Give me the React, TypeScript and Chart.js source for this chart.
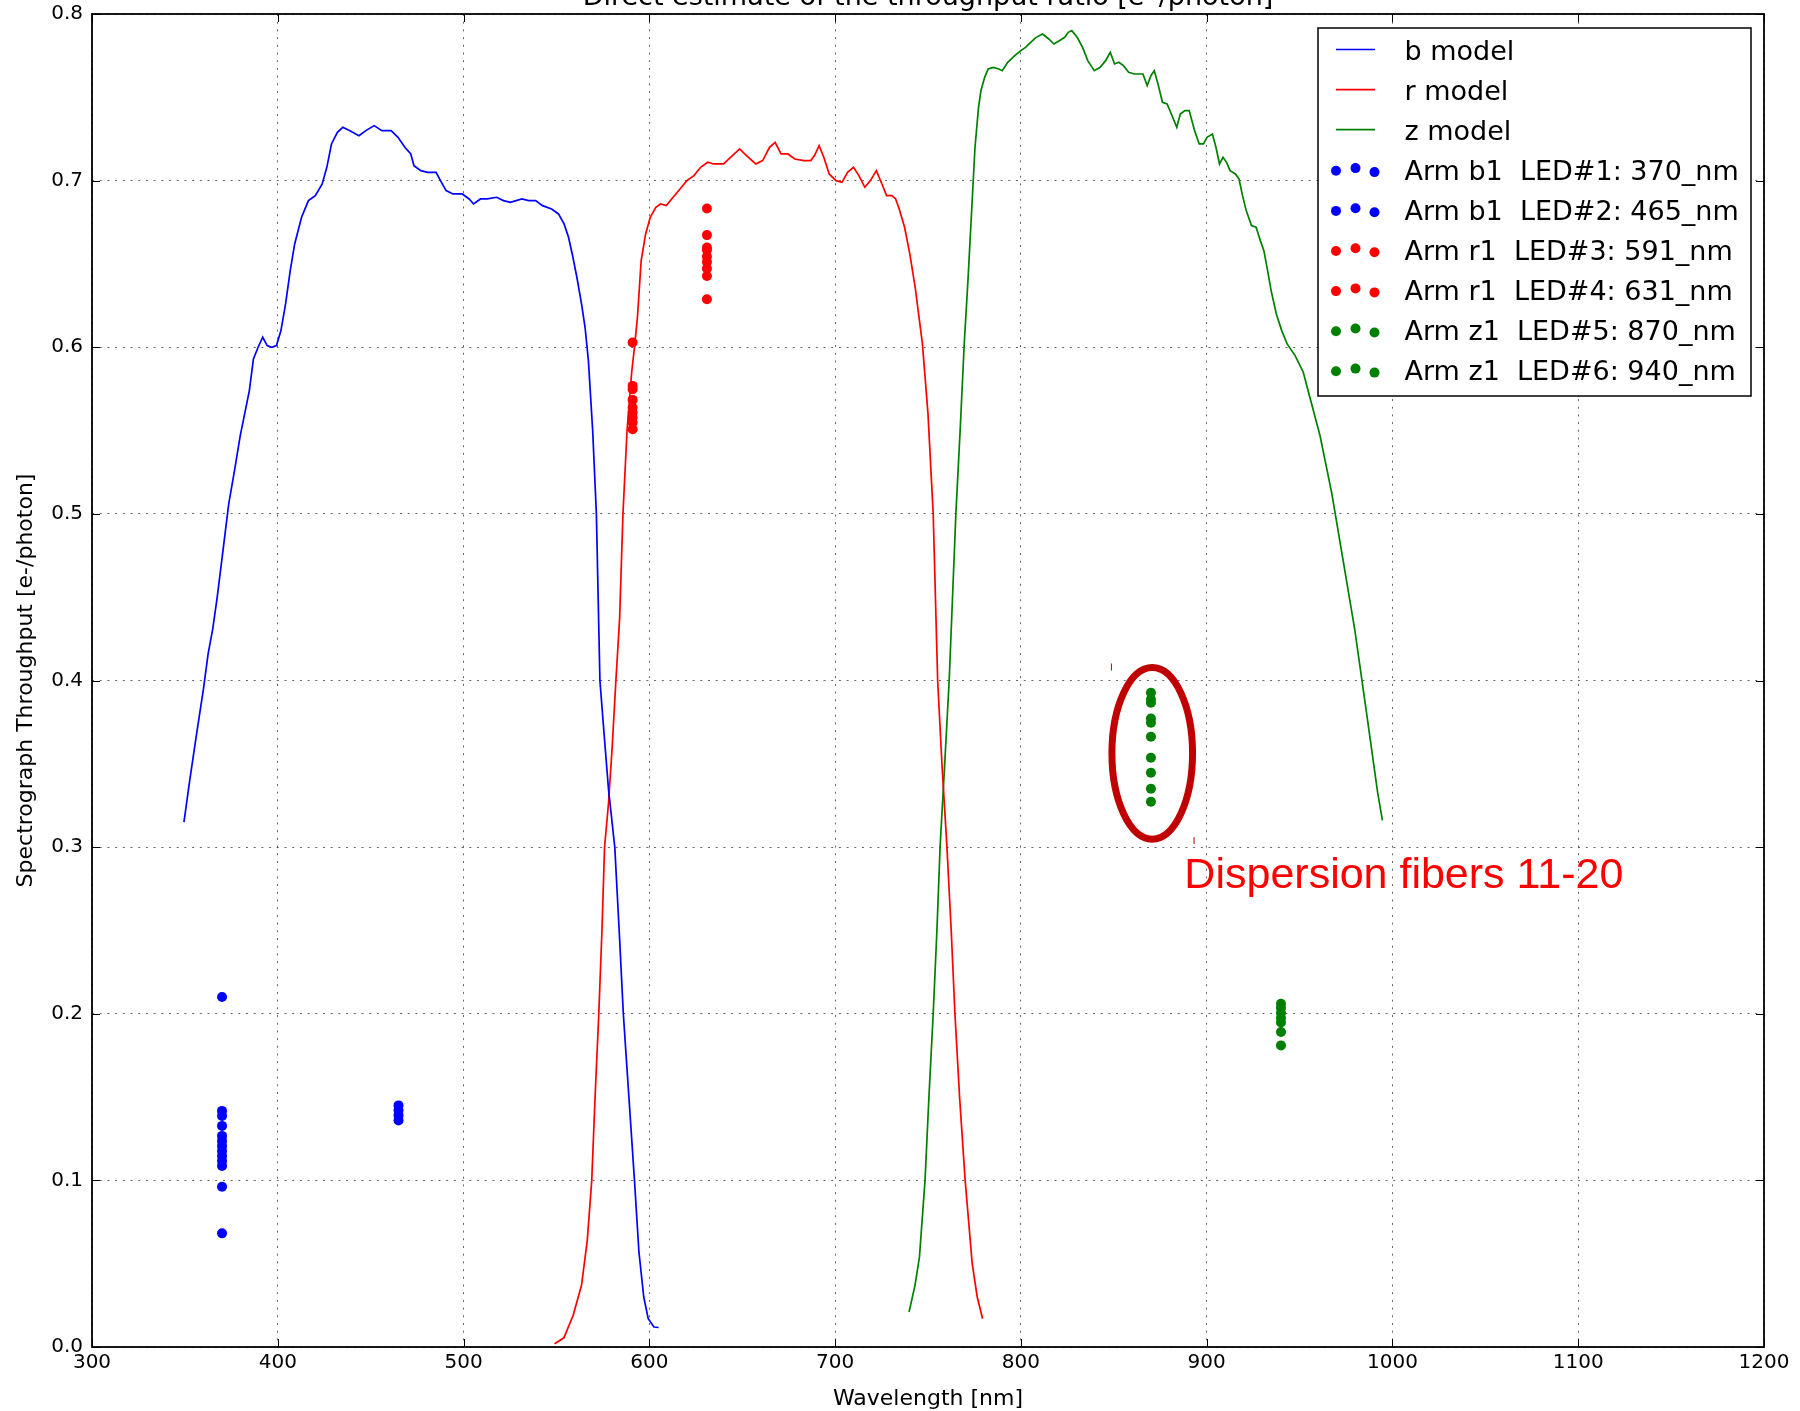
import React, { useEffect, useRef } from "react";
import { Chart, registerables } from "chart.js";

Chart.register(...registerables);

// ---------------- data ----------------
const bWave = [349.5, 352.6, 356.3, 360, 362.5, 365, 367.4, 370.5, 373.6, 376.7, 379.8, 384.7, 386.9, 389.4, 391.9, 394.3, 396.8, 399.3, 401.7, 404.2, 406.7, 409.1, 412.8, 416.5, 420.2, 423.9, 426.4, 428.9, 432.1, 435, 438.8, 443.7, 447.4, 451.9, 456, 461, 464.7, 468.4, 471.6, 473.3, 477, 480.7, 485.2, 488.1, 490.6, 494.3, 499.3, 503, 505.4, 509.1, 512.8, 517.8, 521.5, 525.2, 531.4, 535.1, 538.8, 542.5, 547.4, 551.1, 554.1, 556.5, 558.5, 561, 563.5, 565.4, 567.2, 569.5, 571.5, 573.4, 575.5, 578, 581.4, 584, 586, 589, 592, 594.4, 597, 599.4, 602.5, 605];
const bThru = [0.315, 0.34, 0.368, 0.395, 0.416, 0.431, 0.45, 0.478, 0.506, 0.526, 0.547, 0.574, 0.593, 0.6, 0.606, 0.601, 0.6, 0.601, 0.61, 0.626, 0.646, 0.662, 0.678, 0.688, 0.691, 0.698, 0.708, 0.722, 0.729, 0.732, 0.73, 0.727, 0.73, 0.733, 0.73, 0.73, 0.726, 0.72, 0.716, 0.709, 0.706, 0.705, 0.705, 0.699, 0.694, 0.692, 0.692, 0.689, 0.686, 0.689, 0.689, 0.69, 0.688, 0.687, 0.689, 0.688, 0.688, 0.685, 0.683, 0.68, 0.674, 0.666, 0.656, 0.642, 0.626, 0.612, 0.592, 0.55, 0.5, 0.4, 0.37, 0.335, 0.3, 0.245, 0.2, 0.15, 0.1, 0.057, 0.03, 0.017, 0.012, 0.0117];

const rWave = [549, 554, 559, 563.5, 566.6, 569, 570.8, 572.8, 574.5, 575.9, 578, 580, 582, 584, 585.8, 588, 590.5, 592, 593.6, 595.6, 598, 600.5, 603.5, 606, 609.1, 612.8, 616.5, 620.2, 624, 627.6, 631.4, 634.6, 640, 643.7, 648.6, 652.3, 657.3, 661, 664.7, 667.7, 670.9, 674.6, 678.3, 683.2, 686.9, 688.9, 691.4, 693.9, 696.8, 700.5, 703.7, 706.7, 709.9, 712.8, 716, 719, 722.2, 725.2, 727.7, 730.6, 732.6, 734.5, 737.4, 740.2, 743.1, 745.4, 747, 750, 752.8, 755.2, 757.5, 760.2, 762.5, 764.5, 767, 770, 773.8, 776.5, 779.4];
const rThru = [0.002, 0.0055, 0.019, 0.037, 0.064, 0.1, 0.15, 0.2, 0.25, 0.3, 0.326, 0.36, 0.4, 0.437, 0.5, 0.55, 0.585, 0.6, 0.618, 0.652, 0.668, 0.678, 0.684, 0.686, 0.685, 0.69, 0.695, 0.7, 0.703, 0.708, 0.711, 0.71, 0.71, 0.714, 0.719, 0.715, 0.71, 0.712, 0.72, 0.723, 0.716, 0.716, 0.713, 0.712, 0.712, 0.715, 0.721, 0.714, 0.704, 0.7, 0.699, 0.705, 0.708, 0.703, 0.696, 0.7, 0.706, 0.698, 0.691, 0.691, 0.689, 0.683, 0.672, 0.656, 0.636, 0.616, 0.602, 0.56, 0.5, 0.4, 0.35, 0.3, 0.25, 0.2, 0.15, 0.1, 0.05, 0.03, 0.017];

const zWave = [739.8, 743, 745.4, 748.4, 750.5, 752.8, 754.8, 756.5, 759, 761.4, 763.2, 765, 767.3, 769.5, 771.5, 773.4, 775.3, 777.2, 778.5, 780.5, 782.4, 785.2, 788.1, 790, 792.9, 796.7, 800, 802.5, 804.4, 808.2, 811.7, 815, 817.8, 820.7, 823.6, 825.5, 827.4, 830.3, 833.2, 836, 839.5, 842.7, 845.6, 848.1, 850.4, 852.7, 855.2, 858, 861, 863.4, 865.7, 868, 870, 871.8, 873.8, 876.2, 878.7, 881, 883.9, 885.8, 888.3, 890.6, 893.5, 896, 898.3, 900.2, 903.1, 905, 906.9, 908.8, 910.7, 912.6, 915.5, 917.4, 919.3, 921.3, 924.1, 926.6, 928.9, 930.8, 932.8, 934.7, 937.5, 940.4, 943.3, 947.6, 952, 956, 961, 967.4, 973.6, 979.8, 986, 992, 994.6];
const zThru = [0.021, 0.037, 0.054, 0.1, 0.15, 0.2, 0.25, 0.3, 0.35, 0.4, 0.45, 0.5, 0.55, 0.602, 0.64, 0.68, 0.72, 0.744, 0.754, 0.762, 0.767, 0.768, 0.767, 0.766, 0.771, 0.775, 0.778, 0.78, 0.782, 0.786, 0.788, 0.785, 0.782, 0.784, 0.786, 0.789, 0.79, 0.786, 0.78, 0.772, 0.766, 0.768, 0.772, 0.777, 0.77, 0.771, 0.769, 0.765, 0.764, 0.764, 0.764, 0.757, 0.763, 0.766, 0.758, 0.747, 0.746, 0.74, 0.732, 0.74, 0.742, 0.742, 0.73, 0.722, 0.722, 0.726, 0.728, 0.72, 0.71, 0.714, 0.711, 0.706, 0.704, 0.701, 0.691, 0.682, 0.673, 0.672, 0.664, 0.658, 0.646, 0.634, 0.62, 0.61, 0.602, 0.595, 0.585, 0.568, 0.547, 0.512, 0.471, 0.43, 0.381, 0.333, 0.316];

const ledWaves = [370, 465, 591, 631, 870, 940];
const led1Thru = [0.21, 0.1417, 0.1387, 0.1327, 0.1267, 0.1237, 0.1207, 0.1177, 0.1147, 0.1117, 0.1087, 0.0962, 0.0682];
const led2Thru = [0.145, 0.142, 0.139, 0.136];
const led3Thru = [0.6028, 0.5768, 0.5748, 0.5684, 0.5638, 0.5608, 0.5578, 0.5548, 0.5508];
const led4Thru = [0.6833, 0.6673, 0.6599, 0.6584, 0.6545, 0.6512, 0.6473, 0.6428, 0.6288];
const led5Thru = [0.3926, 0.3886, 0.3866, 0.3772, 0.3746, 0.3662, 0.3536, 0.3446, 0.335, 0.3272];
const led6Thru = [0.206, 0.2034, 0.2004, 0.1974, 0.1948, 0.189, 0.181];

const modelLabels = ["b model", "r model", "z model"];
const ledLabels = [
  "Arm b1  LED#1: 370_nm",
  "Arm b1  LED#2: 465_nm",
  "Arm r1  LED#3: 591_nm",
  "Arm r1  LED#4: 631_nm",
  "Arm z1  LED#5: 870_nm",
  "Arm z1  LED#6: 940_nm",
];

const TITLE = "Direct estimate of the throughput ratio [e\u207B/photon]";
const X_TITLE = "Wavelength [nm]";
const Y_TITLE = "Spectrograph Throughput [e-/photon]";
const NOTE = "Dispersion fibers 11-20";
// annotation ellipse (data units): centre, half-width (nm), half-height
const noteEllipse = { x: 870.7, y: 0.3563, rx: 21.7, ry: 0.0515 };
const noteText = { x: 888, y: 0.2753 };

const BLUE = "#0000ff";
const RED = "#ff0000";
const GREEN = "#008000";

const pts = (xs: number[], ys: number[]) => xs.map((x, i) => ({ x, y: ys[i] }));
const col = (x: number, ys: number[]) => ys.map((y) => ({ x, y }));

const FONT = "'DejaVu Sans', sans-serif";

const decoPlugin = {
  id: "deco",
  afterDraw(chart: any) {
    const { ctx, chartArea: ca, scales } = chart;
    const x = scales.x;
    const y = scales.y;
    ctx.save();

    // inward ticks on all four sides
    ctx.strokeStyle = "#000";
    ctx.lineWidth = 1;
    const TL = 8;
    ctx.beginPath();
    x.ticks.forEach((t: any) => {
      const px = Math.round(x.getPixelForValue(t.value)) + 0.5;
      ctx.moveTo(px, ca.bottom);
      ctx.lineTo(px, ca.bottom - TL);
      ctx.moveTo(px, ca.top);
      ctx.lineTo(px, ca.top + TL);
    });
    y.ticks.forEach((t: any) => {
      const py = Math.round(y.getPixelForValue(t.value)) + 0.5;
      ctx.moveTo(ca.left, py);
      ctx.lineTo(ca.left + TL, py);
      ctx.moveTo(ca.right, py);
      ctx.lineTo(ca.right - TL, py);
    });
    ctx.stroke();

    // frame
    ctx.lineWidth = 1.8;
    ctx.strokeRect(ca.left, ca.top, ca.right - ca.left, ca.bottom - ca.top);

    // title & axis titles
    ctx.fillStyle = "#000";
    ctx.textAlign = "center";
    ctx.textBaseline = "alphabetic";
    ctx.font = `27px ${FONT}`;
    ctx.fillText(TITLE, (ca.left + ca.right) / 2, 5);
    ctx.font = `22px ${FONT}`;
    ctx.fillText(X_TITLE, (ca.left + ca.right) / 2, 1405);
    ctx.save();
    ctx.translate(32, (ca.top + ca.bottom) / 2);
    ctx.rotate(-Math.PI / 2);
    ctx.fillText(Y_TITLE, 0, 0);
    ctx.restore();

    // annotation ellipse + text
    const cx = x.getPixelForValue(noteEllipse.x);
    const cy = y.getPixelForValue(noteEllipse.y);
    const rx = x.getPixelForValue(noteEllipse.x + noteEllipse.rx) - cx;
    const ry = cy - y.getPixelForValue(noteEllipse.y + noteEllipse.ry);
    ctx.strokeStyle = "#c00000";
    ctx.lineWidth = 7;
    ctx.beginPath();
    ctx.ellipse(cx, cy, rx, ry, 0, 0, Math.PI * 2);
    ctx.stroke();
    // tiny selection-corner marks
    ctx.lineWidth = 1;
    ctx.beginPath();
    ctx.moveTo(cx - rx - 0.5, cy - ry - 4);
    ctx.lineTo(cx - rx - 0.5, cy - ry + 3);
    ctx.moveTo(cx + rx + 1.5, cy + ry - 2);
    ctx.lineTo(cx + rx + 1.5, cy + ry + 5);
    ctx.stroke();
    ctx.fillStyle = RED;
    ctx.textAlign = "left";
    ctx.font = "43px 'Liberation Sans', Arial, sans-serif";
    ctx.fillText(NOTE, x.getPixelForValue(noteText.x), y.getPixelForValue(noteText.y));

    // legend
    const lw = 433;
    const lh = 368;
    const lx = ca.right - 13 - lw;
    const ly = ca.top + 14;
    ctx.fillStyle = "#fff";
    ctx.fillRect(lx, ly, lw, lh);
    ctx.strokeStyle = "#000";
    ctx.lineWidth = 1.5;
    ctx.strokeRect(lx, ly, lw, lh);
    const ds = chart.data.datasets;
    ctx.font = `27px ${FONT}`;
    ctx.textAlign = "left";
    ctx.textBaseline = "alphabetic";
    ds.forEach((d: any, i: number) => {
      const rowY = ly + 21.5 + i * 40.1;
      if (d.showLine) {
        ctx.strokeStyle = d.borderColor;
        ctx.lineWidth = 1.7;
        ctx.beginPath();
        ctx.moveTo(lx + 18, rowY);
        ctx.lineTo(lx + 57, rowY);
        ctx.stroke();
      } else {
        ctx.fillStyle = d.backgroundColor;
        const offs = [
          [18, 1],
          [37.5, -1.7],
          [56.5, 2.3],
        ];
        offs.forEach(([dx, dy]) => {
          ctx.beginPath();
          ctx.arc(lx + dx, rowY + dy, 5, 0, Math.PI * 2);
          ctx.fill();
        });
      }
      ctx.fillStyle = "#000";
      ctx.fillText(d.label, lx + 86.5, rowY + 10);
    });

    ctx.restore();
  },
};

export default function App() {
  const ref = useRef<HTMLCanvasElement | null>(null);

  useEffect(() => {
    const canvas = ref.current;
    if (!canvas) return;
    const lineDs = (label: string, xs: number[], ys: number[], color: string) => ({
      label,
      data: pts(xs, ys),
      showLine: true,
      borderColor: color,
      backgroundColor: color,
      borderWidth: 1.7,
      pointRadius: 0,
      tension: 0,
      order: 2,
    });
    const dotDs = (label: string, xv: number, ys: number[], color: string) => ({
      label,
      data: col(xv, ys),
      showLine: false,
      borderColor: color,
      backgroundColor: color,
      pointRadius: 5,
      pointBorderWidth: 0,
      order: 1,
    });
    const chart = new Chart(canvas, {
      type: "scatter",
      data: {
        datasets: [
          lineDs(modelLabels[0], bWave, bThru, BLUE),
          lineDs(modelLabels[1], rWave, rThru, RED),
          lineDs(modelLabels[2], zWave, zThru, GREEN),
          dotDs(ledLabels[0], ledWaves[0], led1Thru, BLUE),
          dotDs(ledLabels[1], ledWaves[1], led2Thru, BLUE),
          dotDs(ledLabels[2], ledWaves[2], led3Thru, RED),
          dotDs(ledLabels[3], ledWaves[3], led4Thru, RED),
          dotDs(ledLabels[4], ledWaves[4], led5Thru, GREEN),
          dotDs(ledLabels[5], ledWaves[5], led6Thru, GREEN),
        ] as any,
      },
      options: {
        animation: false,
        responsive: false,
        devicePixelRatio: 1,
        events: [],
        layout: { padding: { top: 14, right: 36, bottom: 0, left: 0 } },
        plugins: {
          legend: { display: false },
          tooltip: { enabled: false },
          title: { display: false },
        },
        scales: {
          x: {
            type: "linear",
            min: 300,
            max: 1200,
            afterFit: (s: any) => {
              s.height = 64;
              s.paddingLeft = 0;
              s.paddingRight = 0;
            },
            ticks: {
              stepSize: 100,
              autoSkip: false,
              maxRotation: 0,
              padding: 4,
              color: "#000",
              font: { family: "DejaVu Sans", size: 20 },
              callback: (v: any) => String(v),
            },
            grid: { color: "rgba(0,0,0,0.6)", lineWidth: 1, drawTicks: false },
            border: { display: false, dash: [2, 5.7] },
          },
          y: {
            type: "linear",
            min: 0,
            max: 0.8,
            afterFit: (s: any) => {
              s.width = 92;
              s.paddingTop = 0;
              s.paddingBottom = 0;
            },
            ticks: {
              stepSize: 0.1,
              autoSkip: false,
              padding: 9,
              color: "#000",
              font: { family: "DejaVu Sans", size: 20 },
              callback: (v: any) => Number(v).toFixed(1),
            },
            grid: { color: "rgba(0,0,0,0.6)", lineWidth: 1, drawTicks: false },
            border: { display: false, dash: [2, 5.7] },
          },
        },
      } as any,
      plugins: [decoPlugin],
    });
    return () => chart.destroy();
  }, []);

  return (
    <div style={{ position: "absolute", left: 0, top: 0, width: 1800, height: 1411, background: "#fff" }}>
      <canvas ref={ref} width={1800} height={1411} style={{ display: "block" }} />
    </div>
  );
}
